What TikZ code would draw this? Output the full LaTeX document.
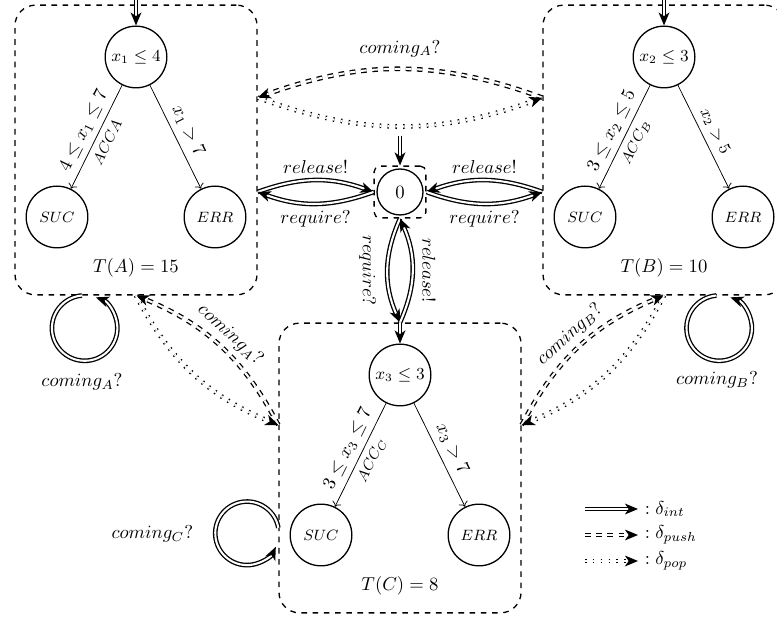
\documentclass[tikz,border=0pt]{standalone}
\usepackage{amsmath,amssymb}
\usetikzlibrary{arrows.meta, positioning, calc, fit}

\begin{document}
\begin{tikzpicture}[x=0.535pt, y=0.535pt, line width=0.7pt,
  loc/.style={circle, draw, minimum size=33pt, inner sep=0pt},
  zone/.style={draw, dashed, rounded corners=11pt, minimum width=129.5pt, minimum height=155pt},
  int/.style={double, double distance=1.1pt, -{Stealth[length=7pt, width=5.8pt, inset=2pt]}},
  push/.style={int, dashed},
  pop/.style={int, dash pattern=on 0.8pt off 3.4pt}]
\useasboundingbox (0,0) rectangle (777,617);
\foreach \n/\x/\y/\i/\g/\lo/\hi/\e/\f/\acc/\t in
  {A/136/467/1/4/4/7/7/\normalsize/ACCA/15,
   B/664/467/2/3/3/5/5/\small/ACC_B/10,
   C/400/149/3/3/3/7/7/\normalsize/ACC_C/8} {
  \node[zone] (box\n) at (\x,\y) {};
  \node[loc, font=\small] (q\n) at (\x,\y+93) {$x_\i \leq \g$};
  \node[loc, font=\footnotesize] (suc\n) at (\x-79,\y-67) {$SUC$};
  \node[loc, font=\footnotesize] (err\n) at (\x+79,\y-67) {$ERR$};
  \node (time\n) at (\x,\y-118) {$T(\n) = \t$};
  \coordinate (in\n) at ([yshift=15pt]q\n.north);
  \draw[int] (in\n) -- (q\n);
  \draw[->, thin] (q\n) -- node[sloped, above] {$\lo \leq x_\i \leq \hi$}
    node[sloped, below, font=\footnotesize] {$\acc$} (suc\n);
  \draw[->, thin] (q\n) -- node[sloped, above, font=\f] {$x_\i > \e$} (err\n);
}
\node[loc, minimum size=24.6pt] (zero) at (400,425) {$0$};
\node[draw, dashed, rounded corners=3pt, fit=(zero), inner sep=1.2pt] (box0) {};
\coordinate (in0) at ([yshift=16pt]box0.north);
\draw[int] (in0) -- (box0);
\draw[int] (boxA.east |- box0.west) to[bend left=20] node[above] {$release!$} (box0.west);
\draw[int] (box0.west) to[bend left=20] node[below] {$require?$} (boxA.east |- box0.west);
\draw[int] (boxB.west |- box0.east) to[bend right=20] node[above] {$release!$} (box0.east);
\draw[int] (box0.east) to[bend right=20] node[below] {$require?$} (boxB.west |- box0.east);
\draw[int] (box0.south) to[bend right=24] node[anchor=north, rotate=-90, inner sep=6pt] {$require?$} (boxC.north);
\draw[int] (boxC.north) to[bend right=24] node[anchor=south, rotate=-90, inner sep=5pt] {$release!$} (box0.south);
\draw[push] ([yshift=28pt]boxB.west) to[bend right=20] node[above=3pt] {$coming_A?$} ([yshift=28pt]boxA.east);
\draw[pop] ([yshift=28pt]boxA.east) to[bend right=20] ([yshift=28pt]boxB.west);
\draw[push] ([yshift=23pt]boxC.west) to[bend right=20] node[sloped, above] {$coming_A?$} (boxA.south);
\draw[pop] (boxA.south) to[bend right=20] ([yshift=23pt]boxC.west);
\draw[push] ([yshift=23pt]boxC.east) to[bend left=20] node[sloped, above] {$coming_B?$} (boxB.south);
\draw[pop] (boxB.south) to[bend left=20] ([yshift=23pt]boxC.east);
\coordinate (lA) at ([xshift=-29pt]boxA.south);
\draw[int] (lA) arc[start angle=95, end angle=430, radius=17.5pt];
\node (comA) at (82,235) {$coming_A?$};
\coordinate (lB) at ([xshift=28pt]boxB.south);
\draw[int] (lB) arc[start angle=95, end angle=430, radius=17.5pt];
\node (comB) at (717,237) {$coming_B?$};
\coordinate (lC) at ([yshift=-32pt]boxC.west);
\draw[int] (lC) arc[start angle=10, end angle=335, radius=17pt];
\node[anchor=east] (comC) at (200,83) {$coming_C?$};
\foreach \s/\d [count=\k] in {int/int, push/push, pop/pop} {
  \coordinate (lg\k) at (585,134-26*\k);
  \draw[\s] (lg\k) -- ++(53,0) node[right] (lt\k) {$:\delta_{\d}$};
}
\end{tikzpicture}
\end{document}
